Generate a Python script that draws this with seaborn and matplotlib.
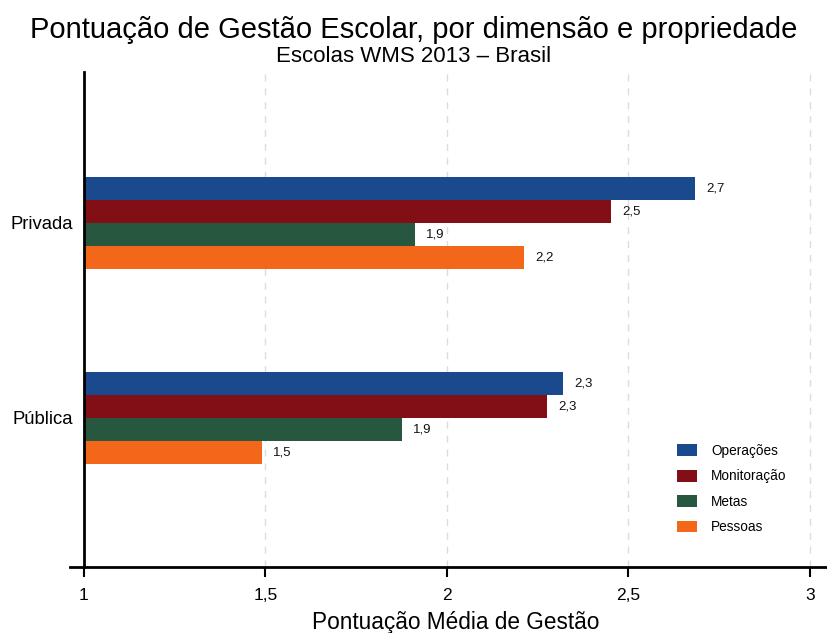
import matplotlib
matplotlib.use("Agg")
import matplotlib.pyplot as plt
import seaborn as sns
import pandas as pd
from matplotlib.patches import Patch

propriedade = ["Privada", "Pública"]
dimensoes = ["Operações", "Monitoração", "Metas", "Pessoas"]
privada = [2.683, 2.452, 1.912, 2.212]
publica = [2.320, 2.275, 1.876, 1.490]
xticks = [1, 1.5, 2, 2.5, 3]
xticklabels = ["1", "1,5", "2", "2,5", "3"]
cores = ["#1b498d", "#830f16", "#27583f", "#f26719"]

rows = []
for prop, vals in zip(propriedade, [privada, publica]):
    for d, v in zip(dimensoes, vals):
        rows.append({"Propriedade": prop, "Dimensão": d, "Pontuação": v})
df = pd.DataFrame(rows)

sns.set_theme(style="white")
plt.rcParams["font.family"] = ["Liberation Sans", "DejaVu Sans"]
plt.rcParams["text.color"] = "black"
plt.rcParams["xtick.color"] = "black"
plt.rcParams["ytick.color"] = "black"
plt.rcParams["axes.labelcolor"] = "black"

fig = plt.figure(figsize=(8.27, 6.33), dpi=100)
ax = fig.add_axes([84 / 827, 1 - 567 / 633, 1 - 84 / 827, (567 - 72) / 633])

sns.barplot(data=df, y="Propriedade", x="Pontuação", hue="Dimensão",
            order=propriedade, hue_order=dimensoes, palette=cores,
            orient="h", width=0.472, saturation=1, ax=ax, legend=False,
            edgecolor="none", linewidth=0)

ax.set_xlim(1, 3.047)
ax.set_ylim(1.764, -0.774)

for c in ax.containers:
    ax.bar_label(c, labels=[f"{v:.1f}".replace(".", ",") for v in c.datavalues],
                 padding=8, fontsize=9.5, color="#111111")

ax.set_xticks(xticks)
ax.set_xticklabels(xticklabels, fontsize=12.5)
ax.tick_params(axis="x", direction="out", length=7, width=1.5, color="black",
               pad=8, bottom=True)
ax.tick_params(axis="y", length=0, pad=8, labelsize=13.3)
ax.set_ylabel("")
ax.set_xlabel("Pontuação Média de Gestão", fontsize=16.3, labelpad=6)

for x in xticks[1:]:
    ax.axvline(x, color="#dcdcdc", lw=1, ls=(0, (5, 5)), zorder=0)

for s in ["top", "right"]:
    ax.spines[s].set_visible(False)
ax.spines["left"].set_color("black")
ax.spines["left"].set_linewidth(2)
ax.spines["bottom"].set_color("black")
ax.spines["bottom"].set_linewidth(2)
ax.spines["bottom"].set_bounds(0.961, 3.047)

handles = [Patch(facecolor=c, edgecolor="none", label=d) for c, d in zip(cores, dimensoes)]
fig.legend(handles=handles, loc="upper left",
           bbox_to_anchor=(677 / 827, 1 - 444 / 633),
           frameon=False, fontsize=9.8, handlelength=1.44, handleheight=0.94,
           labelspacing=0.84, handletextpad=1.08, borderpad=0, borderaxespad=0)

fig.text(0.5, 1 - 30 / 633, "Pontuação de Gestão Escolar, por dimensão e propriedade",
         ha="center", va="center", fontsize=21)
fig.text(0.5, 1 - 57 / 633, "Escolas WMS 2013 – Brasil",
         ha="center", va="center", fontsize=16)

fig.savefig("out.png", dpi=100)
